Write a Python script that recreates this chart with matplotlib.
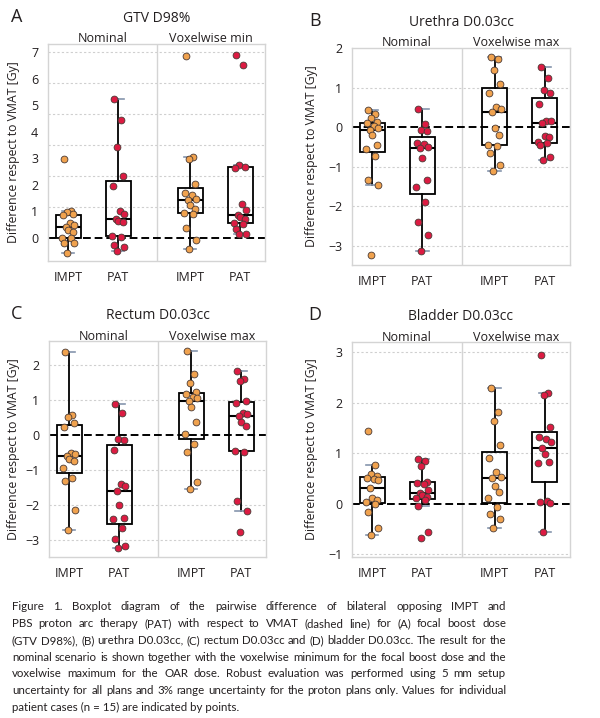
import numpy as np
import matplotlib.pyplot as plt
import matplotlib.transforms as mtransforms
from matplotlib import font_manager

plt.rcParams['font.family'] = ['Open Sans', 'DejaVu Sans']
TXT = '#231f20'

# ---- data (Gy difference to VMAT), 15 patients per group ----
groups = ['IMPT', 'PAT', 'IMPT', 'PAT']

gtv_impt_nom = [2.98, 1.0, 0.98, 0.91, 0.85, 0.56, 0.48, 0.41, 0.29, 0.23, 0.01, -0.02, -0.19, -0.19, -0.55]
gtv_pat_nom = [5.22, 4.44, 3.44, 2.33, 1.95, 1.01, 0.91, 0.7, 0.63, 0.6, 0.08, 0.05, -0.28, -0.36, -0.49]
gtv_impt_vox = [6.83, 3.04, 2.98, 2.04, 1.69, 1.63, 1.48, 1.44, 1.25, 1.1, 0.94, 0.91, 0.38, -0.09, -0.4]
gtv_pat_vox = [6.89, 6.51, 2.73, 2.68, 2.63, 1.29, 1.06, 0.85, 0.79, 0.7, 0.56, 0.54, 0.35, 0.16, 0.14]

ure_impt_nom = [0.43, 0.34, 0.22, 0.13, 0.1, 0.02, -0.03, -0.08, -0.2, -0.45, -0.54, -0.73, -1.34, -1.46, -3.24]
ure_pat_nom = [0.45, 0.07, -0.08, -0.1, -0.39, -0.43, -0.5, -0.52, -0.79, -1.34, -1.5, -1.88, -2.39, -2.72, -3.12]
ure_impt_vox = [1.77, 1.72, 1.44, 1.1, 0.87, 0.51, 0.47, 0.39, -0.03, -0.2, -0.44, -0.47, -0.64, -0.96, -1.11]
ure_pat_vox = [1.52, 1.23, 0.93, 0.87, 0.58, 0.16, 0.16, 0.11, -0.22, -0.24, -0.37, -0.41, -0.45, -0.75, -0.83]

rec_impt_nom = [2.37, 0.57, 0.52, 0.35, 0.24, -0.52, -0.54, -0.59, -0.69, -0.73, -0.95, -1.24, -1.31, -2.14, -2.73]
rec_pat_nom = [0.9, 0.64, -0.12, -0.14, -0.43, -1.41, -1.46, -1.59, -2.0, -2.36, -2.41, -2.67, -2.98, -3.17, -3.24]
rec_impt_vox = [2.4, 1.76, 1.5, 1.24, 1.16, 1.08, 1.05, 0.96, 0.81, 0.38, 0.03, -0.27, -0.48, -1.35, -1.54]
rec_pat_vox = [1.83, 1.6, 1.54, 0.98, 0.92, 0.62, 0.59, 0.54, 0.38, 0.26, -0.45, -0.48, -1.88, -2.17, -2.78]

bla_impt_nom = [1.45, 0.76, 0.6, 0.55, 0.52, 0.49, 0.47, 0.31, 0.11, 0.08, 0.03, 0.0, -0.16, -0.48, -0.61]
bla_pat_nom = [0.89, 0.85, 0.74, 0.44, 0.41, 0.39, 0.28, 0.21, 0.18, 0.14, 0.11, 0.08, -0.05, -0.56, -0.68]
bla_impt_vox = [2.3, 1.82, 1.64, 1.16, 0.91, 0.64, 0.54, 0.51, 0.36, 0.23, 0.11, -0.07, -0.2, -0.3, -0.47]
bla_pat_vox = [2.94, 2.2, 2.15, 1.51, 1.32, 1.28, 1.22, 1.1, 0.99, 0.82, 0.8, 0.06, 0.03, 0.01, -0.56]

panels = [
    dict(letter='A', title='GTV D98%', scen=('Nominal', 'Voxelwise min'),
         data=[gtv_impt_nom, gtv_pat_nom, gtv_impt_vox, gtv_pat_vox],
         rect=(48, 44, 265, 261), ylim=(-0.87, 7.3), ticks=range(0, 8),
         grid=[7 * k / 6 for k in range(1, 7)], ylab_x=-0.129),
    dict(letter='B', title='Urethra D0.03cc', scen=('Nominal', 'Voxelwise max'),
         data=[ure_impt_nom, ure_pat_nom, ure_impt_vox, ure_pat_vox],
         rect=(352, 48, 570, 265), ylim=(-3.48, 2.0), ticks=range(-3, 3),
         grid=[-3, -2, -1, 1], ylab_x=-0.156),
    dict(letter='C', title='Rectum D0.03cc', scen=('Nominal', 'Voxelwise max'),
         data=[rec_impt_nom, rec_pat_nom, rec_impt_vox, rec_pat_vox],
         rect=(49, 341, 266, 557), ylim=(-3.49, 2.69), ticks=range(-3, 3),
         grid=[-3, -2, -1, 1, 2], ylab_x=-0.134),
    dict(letter='D', title='Bladder D0.03cc', scen=('Nominal', 'Voxelwise max'),
         data=[bla_impt_nom, bla_pat_nom, bla_impt_vox, bla_pat_vox],
         rect=(352, 342, 570, 557), ylim=(-1.05, 3.2), ticks=range(-1, 4),
         grid=[-1, 1, 2, 3], ylab_x=-0.158),
]

W, H = 600, 718
fig = plt.figure(figsize=(W / 100, H / 100), dpi=100)

pos = [0, 1, 2.44, 3.44]
divider = 1.78
colors = ['#f0a24e', '#dc1b42', '#f0a24e', '#dc1b42']
jit = [-0.08, 0.06, -0.02, 0.1, -0.11, 0.03, 0.12, -0.05, 0.0, 0.09, -0.13, 0.05, -0.09, 0.11, -0.03]

for p in panels:
    l, t, r, b = p['rect']
    ax = fig.add_axes([l / W, 1 - b / H, (r - l) / W, (b - t) / H])
    ax.set_xlim(-0.4, 3.94)
    ax.set_ylim(*p['ylim'])
    for g in p['grid']:
        ax.axhline(g, color='#cfcfcf', lw=0.8, ls=(0, (2, 2)), zorder=1)
    ax.axvline(divider, color='#d4d4d4', lw=1, zorder=1)
    ax.axhline(0, color='black', lw=1.4, ls=(0, (4, 2)), zorder=2)

    ax.boxplot(p['data'], positions=pos, widths=0.5, showfliers=False, whis=1.5,
               capwidths=0.25, patch_artist=True,
               boxprops=dict(facecolor='none', edgecolor='black', lw=1.3),
               medianprops=dict(color='black', lw=1.5),
               whiskerprops=dict(color='black', lw=1.3),
               capprops=dict(color='#8595ad', lw=1.2),
               zorder=3)
    for i, vals in enumerate(p['data']):
        xs = [pos[i] + jit[k % len(jit)] for k in range(len(vals))]
        ax.scatter(xs, vals, s=24, color=colors[i], edgecolor='#4a3a35',
                   linewidth=0.6, zorder=4)

    ax.set_yticks(list(p['ticks']))
    ax.set_xticks(pos)
    ax.set_xticklabels(groups)
    ax.tick_params(axis='both', length=0, labelsize=9, colors=TXT)
    ax.tick_params(axis='y', pad=7)
    ax.tick_params(axis='x', pad=7)
    for s in ax.spines.values():
        s.set_color('#d4d4d4')
        s.set_linewidth(1)
    ax.set_ylabel('Difference respect to VMAT [Gy]', fontsize=8.8, color=TXT)
    ax.yaxis.set_label_coords(p['ylab_x'], 0.5)

    trans = mtransforms.blended_transform_factory(ax.transData, ax.transAxes)
    ax.text(divider / 2 + (-0.4) / 2, 1 + 1.5 / (b - t), p['scen'][0], transform=trans,
            ha='center', va='baseline', fontsize=9, color=TXT)
    ax.text((divider + 3.94) / 2, 1 + 1.5 / (b - t), p['scen'][1], transform=trans,
            ha='center', va='baseline', fontsize=9, color=TXT)
    fig.text(((l + r) / 2) / W, 1 - (t - 22) / H, p['title'], ha='center', va='baseline',
             fontsize=10, color=TXT)
    lx = 17 if l < 300 else 315
    fig.text(lx / W, 1 - (t - 22) / H, p['letter'], ha='center', va='baseline',
             fontsize=13, color=TXT)

# ---- caption, justified ----
caption = [
    'Figure 1.  Boxplot diagram of the pairwise difference of bilateral opposing IMPT and',
    'PBS proton arc therapy (PAT) with respect to VMAT (dashed line) for (A) focal boost dose',
    '(GTV D98%), (B) urethra D0.03cc, (C)  rectum D0.03cc and (D) bladder D0.03cc. The result for the',
    'nominal scenario is shown together with the voxelwise minimum for the focal boost dose and the',
    'voxelwise maximum for the OAR dose. Robust evaluation was performed using 5 mm setup',
    'uncertainty for all plans and 3% range uncertainty for the proton plans only. Values for individual',
    'patient cases (n = 15) are indicated by points.',
]
names = {f.name for f in font_manager.fontManager.ttflist}
cap_font = 'Liberation Sans Narrow' if 'Liberation Sans Narrow' in names else 'Lato'

x0, x1 = 12, 506
y0, dy = 607, 16.7
renderer = fig.canvas.get_renderer()

# font size so that the fullest line just fits the column
probe = fig.text(0, 0, caption[5], fontsize=10, family=cap_font)
fs = 10 * 490 / probe.get_window_extent(renderer).width
probe.remove()

for i, line in enumerate(caption):
    y = 1 - (y0 + i * dy) / H
    if i == len(caption) - 1:
        fig.text(x0 / W, y, line, fontsize=fs, color=TXT, va='center', family=cap_font)
        continue
    words = line.split()
    objs = [fig.text(0, y, w_, fontsize=fs, color=TXT, va='center', family=cap_font)
            for w_ in words]
    widths = [o.get_window_extent(renderer).width for o in objs]
    gap = (x1 - x0 - sum(widths)) / (len(words) - 1)
    x = x0
    for o, wd in zip(objs, widths):
        o.set_x(x / W)
        x += wd + gap

fig.savefig('out.png', dpi=100)
